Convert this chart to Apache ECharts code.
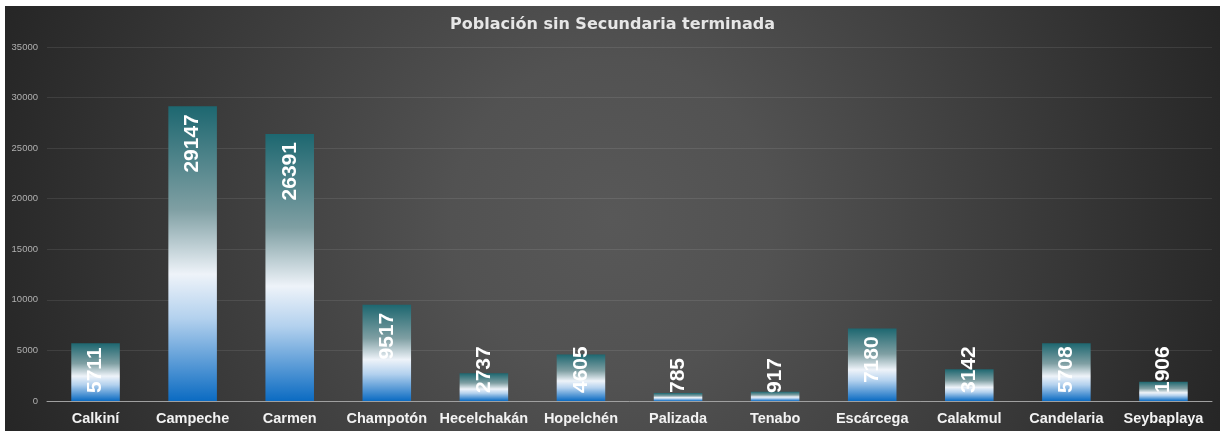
<!DOCTYPE html>
<html>
<head>
<meta charset="utf-8">
<script src="https://cdn.jsdelivr.net/npm/echarts@6/dist/echarts.min.js"></script>
<style>
  html, body { margin: 0; padding: 0; background: #ffffff; }
  #main { position: absolute; left: 5px; top: 6px; width: 1215px; height: 425px; }
</style>
</head>
<body>
<div id="main"></div>
<script>
var titleText = "Población sin Secundaria terminada";
var municipios = ["Calkiní", "Campeche", "Carmen", "Champotón", "Hecelchakán", "Hopelchén",
  "Palizada", "Tenabo", "Escárcega", "Calakmul", "Candelaria", "Seybaplaya"];
var poblacion = [5711, 29147, 26391, 9517, 2737, 4605, 785, 917, 7180, 3142, 5708, 1906];
var yMin = 0, yMax = 35000, yStep = 5000;

var chart = echarts.init(document.getElementById("main"));

// gradiente de cada barra: verde azulado arriba, blanco, azul abajo
var barColor = new echarts.graphic.LinearGradient(0, 0, 0, 1, [
  { offset: 0, color: "#1d6770" },
  { offset: 0.35, color: "#7f9fa3" },
  { offset: 0.57, color: "#eef3f9" },
  { offset: 0.72, color: "#b3d1ee" },
  { offset: 1, color: "#0b6bc2" }
]);

// etiqueta arriba si cabe en la barra, si no desde abajo
var barData = poblacion.map(function (v) {
  var arriba = v >= 6000;
  return {
    value: v,
    label: {
      position: arriba ? "insideTop" : "insideBottom",
      align: arriba ? "right" : "left"
    }
  };
});

var option = {
  backgroundColor: new echarts.graphic.RadialGradient(607, 212, 640, [
    { offset: 0, color: "#585858" },
    { offset: 0.25, color: "#525252" },
    { offset: 1, color: "#262626" }
  ], true),
  title: {
    text: titleText,
    left: "center",
    top: 6,
    textStyle: {
      color: "#e6e6e6",
      fontFamily: "DejaVu Sans",
      fontWeight: "bold",
      fontSize: 16
    }
  },
  grid: { left: 42, right: 8, top: 41, bottom: 30 },
  xAxis: {
    type: "category",
    data: municipios,
    axisTick: { show: false },
    axisLine: { lineStyle: { color: "#a0a0a0", width: 1 } },
    axisLabel: {
      interval: 0,
      margin: 10,
      color: "#f2f2f2",
      fontFamily: "Liberation Sans",
      fontWeight: "bold",
      fontSize: 14.5
    }
  },
  yAxis: {
    type: "value",
    min: yMin,
    max: yMax,
    interval: yStep,
    axisLine: { show: false },
    axisTick: { show: false },
    axisLabel: {
      margin: 9,
      color: "#b0b0b0",
      fontFamily: "Liberation Sans",
      fontSize: 9.5,
      formatter: function (v) { return String(v); }
    },
    splitLine: { lineStyle: { color: "rgba(255,255,255,0.09)", width: 1 } }
  },
  series: [
    {
      type: "bar",
      barWidth: "50%",
      data: barData,
      itemStyle: { color: barColor },
      label: {
        show: true,
        rotate: 90,
        distance: 8,
        verticalAlign: "middle",
        color: "#ffffff",
        fontFamily: "Liberation Sans",
        fontWeight: "bold",
        fontSize: 21
      }
    }
  ]
};

chart.setOption(option);
</script>
</body>
</html>
